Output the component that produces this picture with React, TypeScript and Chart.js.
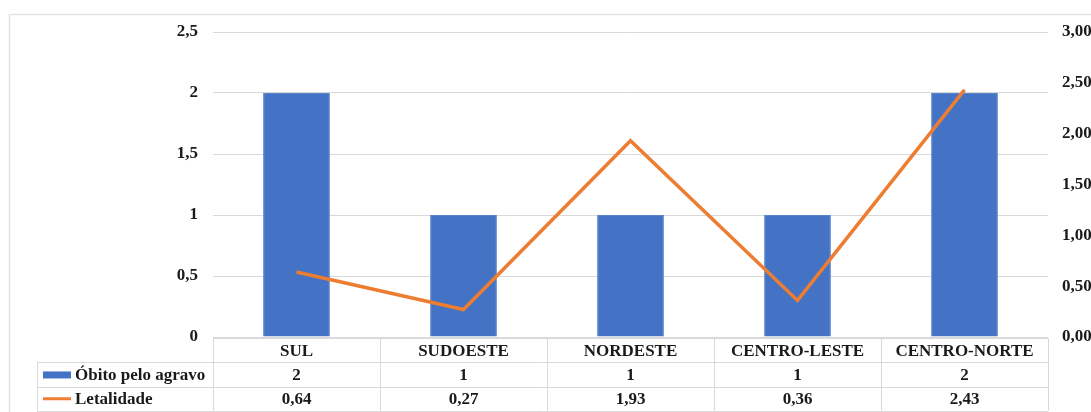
import React, { useEffect, useRef } from "react";
import { Chart, registerables } from "chart.js";

Chart.register(...registerables);

const regions = ["SUL", "SUDOESTE", "NORDESTE", "CENTRO-LESTE", "CENTRO-NORTE"];
const obitos = [2, 1, 1, 1, 2];
const letalidade = [0.64, 0.27, 1.93, 0.36, 2.43];
const seriesNames = ["Óbito pelo agravo", "Letalidade"];

const BLUE = "#4472C4";
const ORANGE = "#ED7D31";
const GRID = "#d9d9d9";
const TEXT = "#1a1a1a";
const FONT_FAMILY = "'Liberation Serif', 'Times New Roman', serif";
const FONT = `bold 17px ${FONT_FAMILY}`;

const fmtComma = (v: number, digits: number) => v.toFixed(digits).replace(".", ",");

// Draws the frame around the chart and the data table under the plot area.
const tablePlugin = {
  id: "dataTable",
  afterDraw(chart: any) {
    const { ctx, chartArea, scales } = chart;
    const x = scales.x;
    const n = regions.length;
    const step = x.getPixelForValue(1) - x.getPixelForValue(0);
    const left = x.getPixelForValue(0) - step / 2;
    const right = x.getPixelForValue(n - 1) + step / 2;
    const top = chartArea.bottom + 1;
    const rowH = 24.3;
    const legendLeft = 37;

    ctx.save();
    // outer frame
    ctx.strokeStyle = "#e3e3e3";
    ctx.lineWidth = 1.5;
    ctx.strokeRect(9.5, 14.5, 3000, 3000);

    ctx.strokeStyle = GRID;
    ctx.lineWidth = 1;
    const hl = (x1: number, x2: number, y: number) => {
      ctx.beginPath();
      ctx.moveTo(x1, Math.round(y) + 0.5);
      ctx.lineTo(x2, Math.round(y) + 0.5);
      ctx.stroke();
    };
    const vl = (xx: number, y1: number, y2: number) => {
      ctx.beginPath();
      ctx.moveTo(Math.round(xx) + 0.5, y1);
      ctx.lineTo(Math.round(xx) + 0.5, y2);
      ctx.stroke();
    };
    hl(left, right, top);
    hl(legendLeft, right, top + rowH);
    hl(legendLeft, right, top + 2 * rowH);
    hl(legendLeft, right, top + 3 * rowH);
    vl(legendLeft, top + rowH, top + 3 * rowH);
    for (let i = 0; i <= n; i++) {
      vl(left + i * step, top, top + 3 * rowH);
    }

    ctx.fillStyle = TEXT;
    ctx.font = FONT;
    ctx.textAlign = "center";
    ctx.textBaseline = "middle";
    for (let i = 0; i < n; i++) {
      const cx = x.getPixelForValue(i);
      ctx.fillText(regions[i], cx, top + rowH / 2 + 1);
      ctx.fillText(String(obitos[i]), cx, top + rowH * 1.5 + 1);
      ctx.fillText(fmtComma(letalidade[i], 2), cx, top + rowH * 2.5 + 1);
    }

    // legend keys
    ctx.textAlign = "left";
    ctx.fillStyle = BLUE;
    ctx.fillRect(43, top + rowH * 1.5 - 3, 28, 7);
    ctx.strokeStyle = ORANGE;
    ctx.lineWidth = 3;
    ctx.beginPath();
    ctx.moveTo(43, top + rowH * 2.5);
    ctx.lineTo(71, top + rowH * 2.5);
    ctx.stroke();
    ctx.fillStyle = TEXT;
    ctx.fillText(seriesNames[0], 75, top + rowH * 1.5 + 1);
    ctx.fillText(seriesNames[1], 75, top + rowH * 2.5 + 1);
    ctx.restore();
  },
};

export default function App() {
  const canvasRef = useRef<HTMLCanvasElement | null>(null);

  useEffect(() => {
    const canvas = canvasRef.current;
    if (!canvas) return;
    const tickFont = { family: FONT_FAMILY, size: 17, weight: "bold" as const };
    const chart = new Chart(canvas, {
      type: "bar",
      data: {
        labels: regions,
        datasets: [
          {
            type: "line",
            label: seriesNames[1],
            data: letalidade,
            borderColor: ORANGE,
            backgroundColor: ORANGE,
            borderWidth: 3.5,
            pointRadius: 0,
            tension: 0,
            yAxisID: "y1",
            order: 0,
          },
          {
            type: "bar",
            label: seriesNames[0],
            data: obitos,
            backgroundColor: BLUE,
            borderColor: "#5a84cc",
            borderWidth: 1,
            barPercentage: 0.4,
            categoryPercentage: 1,
            yAxisID: "y",
            order: 1,
          },
        ],
      },
      options: {
        animation: false,
        responsive: false,
        maintainAspectRatio: false,
        layout: { padding: { top: 32, bottom: 75, left: 0, right: 0 } },
        plugins: { legend: { display: false }, tooltip: { enabled: false } },
        scales: {
          x: { display: false, offset: true },
          y: {
            position: "left",
            min: 0,
            max: 2.5,
            ticks: {
              stepSize: 0.5,
              padding: 15,
              color: TEXT,
              font: tickFont,
              callback: (v: any) => (Number.isInteger(v) ? String(v) : fmtComma(Number(v), 1)),
            },
            grid: { color: GRID, drawTicks: false, lineWidth: 1 },
            border: { display: false },
            afterFit: (s: any) => {
              s.width = 213;
            },
          },
          y1: {
            position: "right",
            min: 0,
            max: 3,
            ticks: {
              stepSize: 0.5,
              padding: 14,
              color: TEXT,
              font: tickFont,
              callback: (v: any) => fmtComma(Number(v), 2),
            },
            grid: { display: false, drawTicks: false },
            border: { display: false },
            afterFit: (s: any) => {
              s.width = 43;
            },
          },
        },
      },
      plugins: [tablePlugin],
    });
    return () => chart.destroy();
  }, []);

  return (
    <div style={{ position: "fixed", left: 0, top: 0, width: 1091, height: 412, background: "#fff" }}>
      <canvas ref={canvasRef} width={1091} height={412} style={{ display: "block" }} />
    </div>
  );
}
